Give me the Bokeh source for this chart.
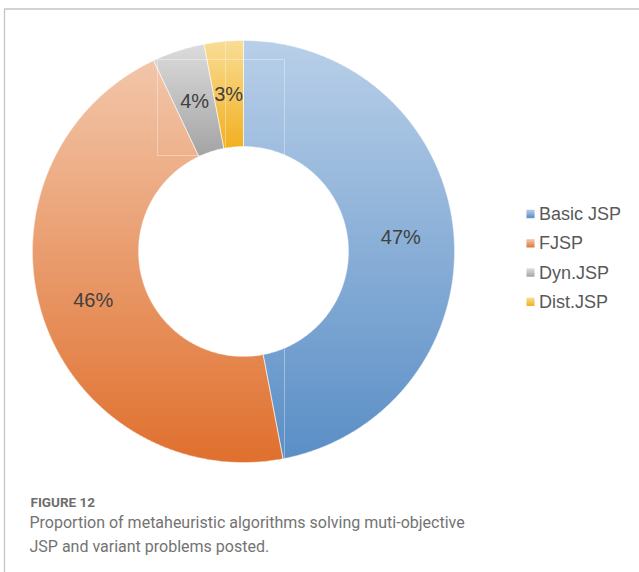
import math
import numpy as np
from bokeh.plotting import figure
from bokeh.models import Range1d
from bokeh.core.properties import value
from bokeh.embed import file_html
from bokeh.resources import INLINE

# ---- data ----
categories = ["Basic JSP", "FJSP", "Dyn.JSP", "Dist.JSP"]
shares = [47, 46, 4, 3]
top_colors = ["#b8cfe8", "#f2c6aa", "#dcdcdc", "#f9dd96"]
bottom_colors = ["#5a8ec6", "#e0702e", "#a2a2a2", "#f1b020"]
caption_title = "FIGURE 12"
caption_lines = ["Proportion of metaheuristic algorithms solving muti-objective",
                 "JSP and variant problems posted."]

# ---- layout ----
W, H = 639, 572
CX, CY = 243, 251
R_OUT, R_IN = 211, 105

p = figure(width=W, height=H, x_range=Range1d(0, W), y_range=Range1d(H, 0),
           output_backend="svg", toolbar_location=None, min_border=0,
           x_axis_type=None, y_axis_type=None)
p.grid.visible = False
p.outline_line_color = None
p.background_fill_color = "white"
p.border_fill_color = "white"


def hex2rgb(h):
    h = h.lstrip("#")
    return tuple(int(h[i:i + 2], 16) for i in (0, 2, 4))


def mix(c0, c1, t):
    a, b = hex2rgb(c0), hex2rgb(c1)
    return "#%02x%02x%02x" % tuple(int(round(a[i] + (b[i] - a[i]) * t)) for i in range(3))


def pt(r, a):
    ar = math.radians(a)
    return CX + r * math.sin(ar), CY - r * math.cos(ar)


def wedge_poly(a0, a1):
    n = max(8, int(abs(a1 - a0) / 0.5))
    angs = np.linspace(a0, a1, n)
    pts = [pt(R_OUT, a) for a in angs] + [pt(R_IN, a) for a in angs[::-1]]
    return pts


def clip_half(pts, keep_above, yb):
    out = []
    if not pts:
        return out
    def inside(q):
        return q[1] >= yb if keep_above else q[1] <= yb
    prev = pts[-1]
    for cur in pts:
        ci, pi = inside(cur), inside(prev)
        if ci:
            if not pi:
                t = (yb - prev[1]) / (cur[1] - prev[1])
                out.append((prev[0] + t * (cur[0] - prev[0]), yb))
            out.append(cur)
        elif pi:
            t = (yb - prev[1]) / (cur[1] - prev[1])
            out.append((prev[0] + t * (cur[0] - prev[0]), yb))
        prev = cur
    return out


total = float(sum(shares))
xs_all, ys_all, cols_all = [], [], []
outline_xs, outline_ys = [], []
label_x, label_y, label_t = [], [], []
start = 0.0
for i, s in enumerate(shares):
    span = 360.0 * s / total
    a0, a1 = start, start + span
    poly = wedge_poly(a0, a1)
    outline_xs.append([q[0] for q in poly])
    outline_ys.append([q[1] for q in poly])
    ymin = min(q[1] for q in poly)
    ymax = max(q[1] for q in poly)
    step = 2.0
    nb = int(math.ceil((ymax - ymin) / step))
    for k in range(nb):
        y0 = ymin + k * step
        y1 = y0 + step + 0.8
        c = clip_half(clip_half(poly, True, y0), False, y1)
        if len(c) >= 3:
            xs_all.append([q[0] for q in c])
            ys_all.append([q[1] for q in c])
            cols_all.append(mix(top_colors[i], bottom_colors[i], (k + 0.5) / nb))
    mid = (a0 + a1) / 2
    lx, ly = pt((R_OUT + R_IN) / 2, mid)
    label_x.append(lx)
    label_y.append(ly)
    label_t.append("%d%%" % round(100 * s / total))
    start = a1

p.patches(xs_all, ys_all, fill_color=cols_all, line_color=None)
p.patches(outline_xs, outline_ys, fill_color=None, line_color="white",
          line_alpha=0.6, line_width=0.8)

# faint artefact frames seen in the original figure
p.segment(x0=[157, 157, 157, 284, 225, 284], y0=[59, 155, 59, 59, 42, 155],
          x1=[284, 284, 157, 284, 225, 284], y1=[59, 155, 155, 155, 147, 458],
          line_color="white", line_alpha=0.35, line_width=1)

p.text(x=label_x, y=label_y, text=label_t, text_align="center",
       text_baseline="middle", text_font=value("Liberation Sans"),
       text_font_size="20px", text_color="#404040")

# legend
LX, LY0, LDY, SQ = 530, 213.5, 29.3, 8
for i, name in enumerate(categories):
    yc = LY0 + i * LDY
    nseg = 4
    for k in range(nseg):
        yy = yc - SQ / 2 + (k + 0.5) * SQ / nseg
        p.rect(x=[LX], y=[yy], width=SQ, height=SQ / nseg + 0.3,
               fill_color=mix(top_colors[i], bottom_colors[i], (k + 0.5) / nseg),
               line_color=None)
p.text(x=[LX + 8.5] * len(categories), y=[LY0 + i * LDY for i in range(len(categories))],
       text=categories, text_align="left", text_baseline="middle",
       text_font=value("Liberation Sans"), text_font_size="18px", text_color="#595959")

# frame lines
p.line(x=[4, 4, W], y=[H, 8.5, 8.5], line_color="#c4c4c4", line_width=1.3)

# caption
p.text(x=[30], y=[501], text=[caption_title], text_align="left",
       text_baseline="alphabetic", text_font=value("Roboto"),
       text_font_style="bold", text_font_size="13.5px", text_color="#6e6e6e")
p.text(x=[29, 29], y=[522, 545.5], text=caption_lines, text_align="left",
       text_baseline="alphabetic", text_font=value("Roboto"),
       text_font_size="16px", text_color="#737373")

open("out.html", "w").write(file_html(p, INLINE))
